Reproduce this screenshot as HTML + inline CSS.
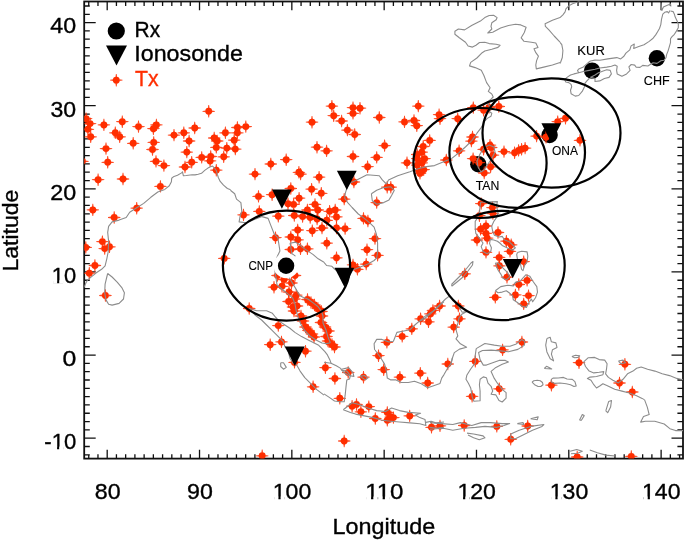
<!DOCTYPE html>
<html><head><meta charset="utf-8"><style>
html,body{margin:0;padding:0;background:#fff;overflow:hidden}
svg{display:block;font-family:"Liberation Sans",sans-serif;will-change:transform;filter:blur(0.3px)}
text{stroke:#000;stroke-width:0.35px}
text[fill]{stroke:#ff2e00}
</style></head><body>
<svg width="685" height="541" viewBox="0 0 685 541">
<defs><g id="m"><path d="M3 -0.9L6.2 -0.4L6.2 0.4L3 0.9ZM-3 -0.9L-6.2 -0.4L-6.2 0.4L-3 0.9ZM-0.9 3L-0.4 6.2L0.4 6.2L0.9 3ZM-0.9 -3L-0.4 -6.2L0.4 -6.2L0.9 -3Z" fill="#ff2e00" opacity="0.85"/><circle r="3.45" fill="#ff2e00"/></g><clipPath id="c"><rect x="84.2" y="1.5" width="598.8" height="457.1"/></clipPath></defs>
<rect width="685" height="541" fill="#fff"/>
<rect x="84.2" y="1.5" width="598.8" height="457.1" fill="none" stroke="#111" stroke-width="1.8"/>
<path d="M88.74 458.60V454.20M88.74 1.50V5.90M97.97 458.60V454.20M97.97 1.50V5.90M107.20 458.60V449.80M107.20 1.50V10.30M116.43 458.60V454.20M116.43 1.50V5.90M125.66 458.60V454.20M125.66 1.50V5.90M134.90 458.60V454.20M134.90 1.50V5.90M144.13 458.60V454.20M144.13 1.50V5.90M153.36 458.60V454.20M153.36 1.50V5.90M162.59 458.60V454.20M162.59 1.50V5.90M171.82 458.60V454.20M171.82 1.50V5.90M181.06 458.60V454.20M181.06 1.50V5.90M190.29 458.60V454.20M190.29 1.50V5.90M199.52 458.60V449.80M199.52 1.50V10.30M208.75 458.60V454.20M208.75 1.50V5.90M217.98 458.60V454.20M217.98 1.50V5.90M227.22 458.60V454.20M227.22 1.50V5.90M236.45 458.60V454.20M236.45 1.50V5.90M245.68 458.60V454.20M245.68 1.50V5.90M254.91 458.60V454.20M254.91 1.50V5.90M264.14 458.60V454.20M264.14 1.50V5.90M273.38 458.60V454.20M273.38 1.50V5.90M282.61 458.60V454.20M282.61 1.50V5.90M291.84 458.60V449.80M291.84 1.50V10.30M301.07 458.60V454.20M301.07 1.50V5.90M310.30 458.60V454.20M310.30 1.50V5.90M319.54 458.60V454.20M319.54 1.50V5.90M328.77 458.60V454.20M328.77 1.50V5.90M338.00 458.60V454.20M338.00 1.50V5.90M347.23 458.60V454.20M347.23 1.50V5.90M356.46 458.60V454.20M356.46 1.50V5.90M365.70 458.60V454.20M365.70 1.50V5.90M374.93 458.60V454.20M374.93 1.50V5.90M384.16 458.60V449.80M384.16 1.50V10.30M393.39 458.60V454.20M393.39 1.50V5.90M402.62 458.60V454.20M402.62 1.50V5.90M411.86 458.60V454.20M411.86 1.50V5.90M421.09 458.60V454.20M421.09 1.50V5.90M430.32 458.60V454.20M430.32 1.50V5.90M439.55 458.60V454.20M439.55 1.50V5.90M448.78 458.60V454.20M448.78 1.50V5.90M458.02 458.60V454.20M458.02 1.50V5.90M467.25 458.60V454.20M467.25 1.50V5.90M476.48 458.60V449.80M476.48 1.50V10.30M485.71 458.60V454.20M485.71 1.50V5.90M494.94 458.60V454.20M494.94 1.50V5.90M504.18 458.60V454.20M504.18 1.50V5.90M513.41 458.60V454.20M513.41 1.50V5.90M522.64 458.60V454.20M522.64 1.50V5.90M531.87 458.60V454.20M531.87 1.50V5.90M541.10 458.60V454.20M541.10 1.50V5.90M550.34 458.60V454.20M550.34 1.50V5.90M559.57 458.60V454.20M559.57 1.50V5.90M568.80 458.60V449.80M568.80 1.50V10.30M578.03 458.60V454.20M578.03 1.50V5.90M587.26 458.60V454.20M587.26 1.50V5.90M596.50 458.60V454.20M596.50 1.50V5.90M605.73 458.60V454.20M605.73 1.50V5.90M614.96 458.60V454.20M614.96 1.50V5.90M624.19 458.60V454.20M624.19 1.50V5.90M633.42 458.60V454.20M633.42 1.50V5.90M642.66 458.60V454.20M642.66 1.50V5.90M651.89 458.60V454.20M651.89 1.50V5.90M661.12 458.60V449.80M661.12 1.50V10.30M670.35 458.60V454.20M670.35 1.50V5.90M679.58 458.60V454.20M679.58 1.50V5.90M84.20 454.82H89.80M683.00 454.82H677.40M84.20 446.51H89.80M683.00 446.51H677.40M84.20 438.20H95.70M683.00 438.20H671.50M84.20 429.89H89.80M683.00 429.89H677.40M84.20 421.58H89.80M683.00 421.58H677.40M84.20 413.26H89.80M683.00 413.26H677.40M84.20 404.95H89.80M683.00 404.95H677.40M84.20 396.64H89.80M683.00 396.64H677.40M84.20 388.33H89.80M683.00 388.33H677.40M84.20 380.02H89.80M683.00 380.02H677.40M84.20 371.70H89.80M683.00 371.70H677.40M84.20 363.39H89.80M683.00 363.39H677.40M84.20 355.08H95.70M683.00 355.08H671.50M84.20 346.77H89.80M683.00 346.77H677.40M84.20 338.46H89.80M683.00 338.46H677.40M84.20 330.14H89.80M683.00 330.14H677.40M84.20 321.83H89.80M683.00 321.83H677.40M84.20 313.52H89.80M683.00 313.52H677.40M84.20 305.21H89.80M683.00 305.21H677.40M84.20 296.90H89.80M683.00 296.90H677.40M84.20 288.58H89.80M683.00 288.58H677.40M84.20 280.27H89.80M683.00 280.27H677.40M84.20 271.96H95.70M683.00 271.96H671.50M84.20 263.65H89.80M683.00 263.65H677.40M84.20 255.34H89.80M683.00 255.34H677.40M84.20 247.02H89.80M683.00 247.02H677.40M84.20 238.71H89.80M683.00 238.71H677.40M84.20 230.40H89.80M683.00 230.40H677.40M84.20 222.09H89.80M683.00 222.09H677.40M84.20 213.78H89.80M683.00 213.78H677.40M84.20 205.46H89.80M683.00 205.46H677.40M84.20 197.15H89.80M683.00 197.15H677.40M84.20 188.84H95.70M683.00 188.84H671.50M84.20 180.53H89.80M683.00 180.53H677.40M84.20 172.22H89.80M683.00 172.22H677.40M84.20 163.90H89.80M683.00 163.90H677.40M84.20 155.59H89.80M683.00 155.59H677.40M84.20 147.28H89.80M683.00 147.28H677.40M84.20 138.97H89.80M683.00 138.97H677.40M84.20 130.66H89.80M683.00 130.66H677.40M84.20 122.34H89.80M683.00 122.34H677.40M84.20 114.03H89.80M683.00 114.03H677.40M84.20 105.72H95.70M683.00 105.72H671.50M84.20 97.41H89.80M683.00 97.41H677.40M84.20 89.10H89.80M683.00 89.10H677.40M84.20 80.78H89.80M683.00 80.78H677.40M84.20 72.47H89.80M683.00 72.47H677.40M84.20 64.16H89.80M683.00 64.16H677.40M84.20 55.85H89.80M683.00 55.85H677.40M84.20 47.54H89.80M683.00 47.54H677.40M84.20 39.22H89.80M683.00 39.22H677.40M84.20 30.91H89.80M683.00 30.91H677.40M84.20 22.60H95.70M683.00 22.60H671.50M84.20 14.29H89.80M683.00 14.29H677.40M84.20 5.98H89.80M683.00 5.98H677.40" stroke="#111" stroke-width="1.3" fill="none"/>
<circle cx="592.1" cy="70.6" r="8.2" fill="#000"/>
<circle cx="656.9" cy="58.3" r="8.2" fill="#000"/>
<circle cx="478.3" cy="164.3" r="8.2" fill="#000"/>
<circle cx="549.6" cy="135.0" r="8.2" fill="#000"/>
<g clip-path="url(#c)">
<use href="#m" x="86.1" y="118.7"/>
<use href="#m" x="90.1" y="123.6"/>
<use href="#m" x="87.9" y="129.3"/>
<use href="#m" x="90.7" y="136.8"/>
<use href="#m" x="103.9" y="124.9"/>
<use href="#m" x="122.3" y="121.7"/>
<use href="#m" x="115.3" y="132.8"/>
<use href="#m" x="119.7" y="136.8"/>
<use href="#m" x="138.5" y="126.6"/>
<use href="#m" x="156.4" y="124.9"/>
<use href="#m" x="153.4" y="128.7"/>
<use href="#m" x="153.7" y="142.4"/>
<use href="#m" x="152.5" y="149.5"/>
<use href="#m" x="133.2" y="143.3"/>
<use href="#m" x="106.0" y="148.6"/>
<use href="#m" x="107.7" y="162.3"/>
<use href="#m" x="156.0" y="161.4"/>
<use href="#m" x="163.9" y="165.6"/>
<use href="#m" x="98.1" y="179.7"/>
<use href="#m" x="123.0" y="179.0"/>
<use href="#m" x="160.4" y="186.4"/>
<use href="#m" x="174.0" y="135.1"/>
<use href="#m" x="183.8" y="132.8"/>
<use href="#m" x="189.1" y="141.0"/>
<use href="#m" x="194.7" y="128.0"/>
<use href="#m" x="186.8" y="152.1"/>
<use href="#m" x="191.7" y="162.3"/>
<use href="#m" x="185.0" y="167.0"/>
<use href="#m" x="201.7" y="157.4"/>
<use href="#m" x="82.5" y="161.3"/>
<use href="#m" x="208.7" y="111.3"/>
<use href="#m" x="237.4" y="127.5"/>
<use href="#m" x="245.8" y="126.6"/>
<use href="#m" x="225.4" y="132.8"/>
<use href="#m" x="237.4" y="132.8"/>
<use href="#m" x="214.2" y="138.0"/>
<use href="#m" x="217.2" y="141.0"/>
<use href="#m" x="234.2" y="140.2"/>
<use href="#m" x="216.3" y="147.4"/>
<use href="#m" x="226.8" y="148.1"/>
<use href="#m" x="235.3" y="149.1"/>
<use href="#m" x="210.7" y="156.5"/>
<use href="#m" x="210.1" y="160.9"/>
<use href="#m" x="223.7" y="156.8"/>
<use href="#m" x="216.3" y="170.2"/>
<use href="#m" x="255.0" y="174.1"/>
<use href="#m" x="270.8" y="164.0"/>
<use href="#m" x="286.2" y="159.7"/>
<use href="#m" x="298.9" y="172.3"/>
<use href="#m" x="300.6" y="174.1"/>
<use href="#m" x="312.0" y="122.2"/>
<use href="#m" x="317.0" y="147.2"/>
<use href="#m" x="319.1" y="177.2"/>
<use href="#m" x="331.9" y="106.1"/>
<use href="#m" x="353.0" y="107.6"/>
<use href="#m" x="360.0" y="108.2"/>
<use href="#m" x="353.0" y="113.4"/>
<use href="#m" x="333.7" y="115.7"/>
<use href="#m" x="341.6" y="121.0"/>
<use href="#m" x="347.4" y="130.1"/>
<use href="#m" x="354.7" y="134.5"/>
<use href="#m" x="379.3" y="117.5"/>
<use href="#m" x="384.6" y="145.6"/>
<use href="#m" x="326.6" y="150.9"/>
<use href="#m" x="353.0" y="156.5"/>
<use href="#m" x="376.7" y="157.4"/>
<use href="#m" x="367.6" y="166.7"/>
<use href="#m" x="353.9" y="182.0"/>
<use href="#m" x="387.2" y="187.2"/>
<use href="#m" x="390.8" y="187.2"/>
<use href="#m" x="404.5" y="121.9"/>
<use href="#m" x="414.0" y="120.5"/>
<use href="#m" x="416.8" y="125.7"/>
<use href="#m" x="418.3" y="106.1"/>
<use href="#m" x="439.1" y="114.7"/>
<use href="#m" x="440.0" y="118.7"/>
<use href="#m" x="429.7" y="140.4"/>
<use href="#m" x="423.2" y="146.5"/>
<use href="#m" x="421.8" y="152.2"/>
<use href="#m" x="417.2" y="154.5"/>
<use href="#m" x="424.6" y="158.7"/>
<use href="#m" x="417.2" y="158.7"/>
<use href="#m" x="407.0" y="162.8"/>
<use href="#m" x="421.8" y="162.8"/>
<use href="#m" x="417.2" y="165.1"/>
<use href="#m" x="423.7" y="169.7"/>
<use href="#m" x="419.0" y="170.7"/>
<use href="#m" x="420.0" y="173.4"/>
<use href="#m" x="446.3" y="160.0"/>
<use href="#m" x="472.5" y="137.0"/>
<use href="#m" x="471.4" y="141.1"/>
<use href="#m" x="459.1" y="150.8"/>
<use href="#m" x="483.6" y="149.3"/>
<use href="#m" x="490.0" y="145.2"/>
<use href="#m" x="491.2" y="147.5"/>
<use href="#m" x="493.0" y="155.1"/>
<use href="#m" x="473.1" y="158.6"/>
<use href="#m" x="478.9" y="162.7"/>
<use href="#m" x="490.6" y="166.8"/>
<use href="#m" x="484.2" y="173.0"/>
<use href="#m" x="504.0" y="151.6"/>
<use href="#m" x="514.6" y="152.8"/>
<use href="#m" x="518.6" y="150.4"/>
<use href="#m" x="521.6" y="149.3"/>
<use href="#m" x="525.1" y="148.1"/>
<use href="#m" x="473.3" y="107.6"/>
<use href="#m" x="483.6" y="110.2"/>
<use href="#m" x="489.0" y="107.5"/>
<use href="#m" x="498.8" y="106.5"/>
<use href="#m" x="457.7" y="118.7"/>
<use href="#m" x="536.6" y="136.1"/>
<use href="#m" x="546.0" y="137.2"/>
<use href="#m" x="557.7" y="121.6"/>
<use href="#m" x="565.5" y="118.3"/>
<use href="#m" x="580.0" y="140.3"/>
<use href="#m" x="258.5" y="196.4"/>
<use href="#m" x="272.1" y="194.7"/>
<use href="#m" x="243.5" y="214.9"/>
<use href="#m" x="259.3" y="211.4"/>
<use href="#m" x="224.2" y="258.4"/>
<use href="#m" x="290.8" y="188.5"/>
<use href="#m" x="299.1" y="198.2"/>
<use href="#m" x="288.0" y="203.7"/>
<use href="#m" x="293.6" y="204.4"/>
<use href="#m" x="311.6" y="189.2"/>
<use href="#m" x="321.3" y="193.3"/>
<use href="#m" x="315.0" y="204.4"/>
<use href="#m" x="317.8" y="210.0"/>
<use href="#m" x="307.4" y="210.0"/>
<use href="#m" x="329.6" y="211.3"/>
<use href="#m" x="335.2" y="210.0"/>
<use href="#m" x="336.5" y="216.9"/>
<use href="#m" x="326.8" y="220.3"/>
<use href="#m" x="278.3" y="216.2"/>
<use href="#m" x="294.3" y="215.5"/>
<use href="#m" x="302.6" y="216.6"/>
<use href="#m" x="310.2" y="217.6"/>
<use href="#m" x="317.1" y="219.0"/>
<use href="#m" x="336.5" y="228.0"/>
<use href="#m" x="322.0" y="228.0"/>
<use href="#m" x="312.3" y="230.7"/>
<use href="#m" x="297.7" y="230.0"/>
<use href="#m" x="275.5" y="237.7"/>
<use href="#m" x="290.8" y="237.0"/>
<use href="#m" x="297.7" y="239.8"/>
<use href="#m" x="326.8" y="243.2"/>
<use href="#m" x="290.8" y="249.5"/>
<use href="#m" x="300.5" y="248.8"/>
<use href="#m" x="307.4" y="248.8"/>
<use href="#m" x="336.5" y="257.8"/>
<use href="#m" x="277.5" y="275.5"/>
<use href="#m" x="295.0" y="275.5"/>
<use href="#m" x="278.3" y="325.6"/>
<use href="#m" x="281.5" y="341.9"/>
<use href="#m" x="270.2" y="344.7"/>
<use href="#m" x="249.2" y="308.5"/>
<use href="#m" x="305.5" y="351.2"/>
<use href="#m" x="294.5" y="362.4"/>
<use href="#m" x="325.4" y="367.7"/>
<use href="#m" x="284.0" y="279.5"/>
<use href="#m" x="291.5" y="283.0"/>
<use href="#m" x="274.0" y="287.2"/>
<use href="#m" x="282.0" y="286.3"/>
<use href="#m" x="289.0" y="292.0"/>
<use href="#m" x="296.3" y="295.2"/>
<use href="#m" x="294.5" y="299.0"/>
<use href="#m" x="288.6" y="301.5"/>
<use href="#m" x="293.0" y="307.0"/>
<use href="#m" x="297.0" y="306.0"/>
<use href="#m" x="294.0" y="311.0"/>
<use href="#m" x="301.0" y="316.0"/>
<use href="#m" x="303.0" y="321.0"/>
<use href="#m" x="305.5" y="327.0"/>
<use href="#m" x="308.5" y="330.5"/>
<use href="#m" x="312.0" y="334.0"/>
<use href="#m" x="314.0" y="337.0"/>
<use href="#m" x="307.5" y="299.5"/>
<use href="#m" x="311.0" y="302.5"/>
<use href="#m" x="314.5" y="305.0"/>
<use href="#m" x="318.0" y="308.5"/>
<use href="#m" x="321.5" y="311.5"/>
<use href="#m" x="322.0" y="316.0"/>
<use href="#m" x="321.0" y="322.5"/>
<use href="#m" x="325.0" y="327.0"/>
<use href="#m" x="328.5" y="331.0"/>
<use href="#m" x="326.5" y="336.5"/>
<use href="#m" x="328.0" y="341.0"/>
<use href="#m" x="332.0" y="344.5"/>
<use href="#m" x="334.5" y="347.0"/>
<use href="#m" x="92.8" y="209.9"/>
<use href="#m" x="114.2" y="217.5"/>
<use href="#m" x="136.7" y="208.2"/>
<use href="#m" x="102.4" y="241.6"/>
<use href="#m" x="104.7" y="248.6"/>
<use href="#m" x="109.5" y="246.8"/>
<use href="#m" x="85.8" y="247.4"/>
<use href="#m" x="94.9" y="265.5"/>
<use href="#m" x="89.3" y="273.2"/>
<use href="#m" x="344.2" y="199.1"/>
<use href="#m" x="345.1" y="228.6"/>
<use href="#m" x="363.5" y="218.4"/>
<use href="#m" x="367.9" y="221.0"/>
<use href="#m" x="375.0" y="238.6"/>
<use href="#m" x="367.0" y="249.7"/>
<use href="#m" x="377.6" y="255.3"/>
<use href="#m" x="366.2" y="264.1"/>
<use href="#m" x="353.0" y="264.9"/>
<use href="#m" x="357.4" y="269.3"/>
<use href="#m" x="376.7" y="202.6"/>
<use href="#m" x="481.2" y="203.6"/>
<use href="#m" x="492.4" y="207.6"/>
<use href="#m" x="492.9" y="213.6"/>
<use href="#m" x="479.4" y="215.7"/>
<use href="#m" x="486.0" y="226.0"/>
<use href="#m" x="480.6" y="229.2"/>
<use href="#m" x="486.0" y="233.4"/>
<use href="#m" x="487.2" y="238.2"/>
<use href="#m" x="477.0" y="240.0"/>
<use href="#m" x="498.0" y="232.5"/>
<use href="#m" x="506.4" y="241.2"/>
<use href="#m" x="511.2" y="244.8"/>
<use href="#m" x="510.0" y="251.4"/>
<use href="#m" x="486.0" y="252.4"/>
<use href="#m" x="499.2" y="257.4"/>
<use href="#m" x="499.4" y="265.8"/>
<use href="#m" x="507.0" y="277.2"/>
<use href="#m" x="523.7" y="261.6"/>
<use href="#m" x="527.1" y="280.4"/>
<use href="#m" x="518.8" y="284.5"/>
<use href="#m" x="515.4" y="294.9"/>
<use href="#m" x="528.5" y="295.6"/>
<use href="#m" x="523.7" y="303.9"/>
<use href="#m" x="495.3" y="297.4"/>
<use href="#m" x="105.4" y="295.5"/>
<use href="#m" x="378.5" y="355.7"/>
<use href="#m" x="386.9" y="342.4"/>
<use href="#m" x="402.2" y="336.4"/>
<use href="#m" x="411.8" y="328.9"/>
<use href="#m" x="420.6" y="318.8"/>
<use href="#m" x="428.5" y="321.8"/>
<use href="#m" x="430.3" y="313.9"/>
<use href="#m" x="432.9" y="310.4"/>
<use href="#m" x="439.6" y="306.0"/>
<use href="#m" x="464.8" y="273.9"/>
<use href="#m" x="458.3" y="306.0"/>
<use href="#m" x="459.5" y="318.8"/>
<use href="#m" x="453.7" y="327.1"/>
<use href="#m" x="447.8" y="364.0"/>
<use href="#m" x="475.3" y="361.4"/>
<use href="#m" x="502.6" y="349.9"/>
<use href="#m" x="521.9" y="342.0"/>
<use href="#m" x="579.0" y="362.7"/>
<use href="#m" x="624.9" y="364.3"/>
<use href="#m" x="619.5" y="383.0"/>
<use href="#m" x="632.3" y="392.0"/>
<use href="#m" x="551.4" y="385.2"/>
<use href="#m" x="313.1" y="386.8"/>
<use href="#m" x="262.2" y="455.8"/>
<use href="#m" x="334.9" y="378.5"/>
<use href="#m" x="348.2" y="372.5"/>
<use href="#m" x="363.5" y="377.2"/>
<use href="#m" x="383.7" y="369.7"/>
<use href="#m" x="399.9" y="377.2"/>
<use href="#m" x="420.3" y="373.2"/>
<use href="#m" x="427.7" y="383.0"/>
<use href="#m" x="339.8" y="398.3"/>
<use href="#m" x="352.1" y="406.2"/>
<use href="#m" x="356.5" y="404.5"/>
<use href="#m" x="360.9" y="411.8"/>
<use href="#m" x="368.8" y="406.6"/>
<use href="#m" x="375.3" y="418.5"/>
<use href="#m" x="387.3" y="412.4"/>
<use href="#m" x="390.8" y="416.8"/>
<use href="#m" x="387.3" y="420.3"/>
<use href="#m" x="393.4" y="417.6"/>
<use href="#m" x="409.7" y="415.9"/>
<use href="#m" x="431.5" y="427.3"/>
<use href="#m" x="440.0" y="425.9"/>
<use href="#m" x="344.2" y="441.0"/>
<use href="#m" x="472.1" y="396.4"/>
<use href="#m" x="499.3" y="388.8"/>
<use href="#m" x="464.2" y="425.5"/>
<use href="#m" x="496.8" y="426.4"/>
<use href="#m" x="527.7" y="426.0"/>
<use href="#m" x="510.7" y="439.3"/>
<use href="#m" x="577.2" y="457.0"/>
<use href="#m" x="631.3" y="456.4"/>
</g>
<g clip-path="url(#c)" fill="none" stroke="#8c8c8c" stroke-width="1.1" stroke-linejoin="round">
<polyline points="491.8,94.0 488.3,91.4 490.1,87.8 486.6,82.6 483.9,75.5 481.3,70.3 475.1,67.6 469.5,65.9 470.7,62.4 476.9,58.0 482.2,52.7 484.8,51.0 491.8,49.2 498.0,47.4 500.1,45.3 496.2,44.3 489.2,43.6 484.8,42.2 479.5,42.5 476.0,45.3 472.5,47.1 468.1,46.0 465.5,42.2 459.3,37.8 454.9,34.3 454.9,31.3 458.4,29.0 464.6,29.9 471.6,25.5 480.4,21.1 484.8,17.6 489.2,15.5 493.6,15.3 497.1,17.6 496.2,19.7 491.8,22.8 491.0,26.4 491.8,29.0 487.8,33.0 492.7,32.2 500.6,28.1 508.5,25.5 515.5,24.2 520.8,24.9 526.1,27.2 524.3,32.5 521.2,37.8 524.0,41.3 531.4,42.2 535.8,43.0 538.0,47.4 534.0,48.8 535.8,52.7 538.4,56.2 536.6,60.6 535.8,65.0 536.3,68.9 543.7,67.1 552.4,65.0 560.0,62.4"/>
<polyline points="560.0,42.2 554.2,36.0 548.9,29.9 545.4,26.4 545.1,23.7 552.4,20.2 560.0,17.6"/>
<polyline points="164.8,189.4 157.8,192.0 150.8,197.3 143.7,203.4 136.7,207.8 129.7,212.2 126.2,217.5 119.1,220.1 112.1,221.9 108.6,226.3 107.7,232.4 108.6,241.2 108.2,251.8 106.8,258.8 105.1,265.8 101.6,269.3 96.3,272.8 91.0,277.2 87.5,280.1"/>
<polyline points="230.4,190.3 234.7,193.8 236.5,199.1 240.9,202.6 241.8,211.4 240.0,216.6 239.1,221.9 246.2,222.8 255.0,219.3 262.0,216.6 268.1,218.4 270.8,225.4 274.3,234.2 277.8,237.7 278.7,243.0 279.9,250.9 277.4,256.2"/>
<polyline points="295.4,256.2 291.8,253.5 291.0,248.3 290.1,243.3 295.4,242.1 299.8,244.7 302.4,247.4 307.7,250.9 312.9,254.4 318.2,258.8 324.0,262.3"/>
<polyline points="324.0,262.3 326.6,265.5 331.9,266.3 334.5,269.0 339.8,272.8 346.8,272.0 354.7,269.3 360.9,266.7 367.9,264.1 374.1,260.5 376.7,257.9 377.6,251.8 377.6,243.0 376.4,234.2 374.1,227.2 369.7,222.8 364.4,218.4 358.3,214.0 352.1,207.5 347.7,202.6 344.7,198.2 345.4,192.9 346.8,188.5 347.7,185.0"/>
<polyline points="371.4,193.8 376.7,190.3 383.7,187.6 390.8,186.8 394.3,190.3 391.6,195.5 389.0,199.9 383.7,202.6 376.7,204.3 372.3,200.8 371.4,193.8"/>
<polyline points="480.6,202.2 497.4,201.6 496.5,205.8 498.0,213.0 496.8,217.2 493.8,221.4 491.7,226.0 492.6,231.0 494.4,235.2 499.2,237.0 502.2,236.4 504.6,240.0 509.4,241.8 513.0,245.4 515.4,247.8 512.4,250.2 507.0,247.8 502.2,245.4 499.8,243.0 497.4,241.2 493.8,240.0 490.2,239.4 489.6,243.6 491.4,247.8 490.8,251.4 487.2,253.8 483.0,251.4 481.2,246.6 483.0,243.0 479.4,238.2 475.8,233.4 475.2,227.4 475.2,221.4 477.6,217.8 479.4,213.0 480.0,207.0 480.6,202.2"/>
<polyline points="495.3,290.8 500.8,286.6 507.7,285.2 513.3,285.9 515.4,282.4 520.2,281.0 525.8,274.8 529.9,276.2 532.7,281.0 536.8,286.6 537.5,292.1 535.5,297.7 532.7,301.8 531.3,299.1 528.5,303.2 526.4,307.4 521.6,306.0 517.4,302.5 513.3,299.8 512.6,295.6 509.1,292.8 506.3,290.8 502.2,292.1 498.0,292.8 495.3,290.8"/>
<polyline points="517.4,252.6 521.6,251.2 527.1,251.9 527.8,256.1 527.1,261.6 524.4,265.8 523.0,270.6 521.6,269.3 520.2,263.0 517.4,258.9 516.7,254.7 517.4,252.6"/>
<polyline points="495.3,263.0 498.0,270.0 500.8,274.1 502.9,278.3 506.3,279.7 509.8,276.9 507.7,272.7 504.3,269.3 500.8,265.8 498.0,263.0 495.3,263.0"/>
<polyline points="107.7,273.5 112.1,277.0 117.4,282.3 121.8,287.6 124.4,292.8 123.5,299.0 119.1,303.4 112.1,305.1 108.6,304.3 106.0,299.9 104.7,292.8 105.1,284.1 106.8,277.0 107.7,273.5"/>
<polyline points="87.5,280.0 85.4,284.1 84.0,287.6"/>
<polyline points="444.0,301.6 438.2,306.9 432.9,311.3 425.9,315.7 420.6,320.1 415.4,324.5 410.1,329.7 401.3,331.5 396.9,332.4 395.2,336.8 393.4,341.2 389.0,342.0 382.0,339.4 376.7,339.4 374.1,343.8 374.6,349.9"/>
<polyline points="420.0,321.0 423.5,319.2 430.5,313.9 435.8,308.7 441.1,303.4 445.5,299.0 449.0,296.4 451.6,298.1 455.1,301.3 459.5,307.8 462.2,312.2 467.4,311.3 462.2,313.9 459.0,317.8 457.8,323.6 456.0,329.7 457.8,335.9 456.0,338.9 460.4,343.8 466.6,347.3 459.5,349.1 454.3,352.6 452.5,357.8 450.7,365.1"/>
<polyline points="546.9,338.5 550.2,337.3 551.4,341.8 555.9,342.9 557.0,347.4 552.5,349.7 551.4,354.2 553.6,360.9 550.2,358.7 546.9,351.9 545.7,345.2 546.9,338.5"/>
<polyline points="296.4,364.6 300.1,371.1 304.8,377.6 310.3,383.1 316.8,389.6 324.0,395.1"/>
<polyline points="280.7,362.8 283.5,362.8 286.3,367.4 283.5,369.2 280.7,366.5 280.7,362.8"/>
<polyline points="324.0,393.9 329.3,397.4 334.5,401.0 339.8,401.8 344.2,401.8 345.1,395.7 346.0,386.9 346.8,379.9 349.5,379.0 350.4,375.5 346.8,371.1 341.6,370.2 340.7,368.4 336.3,365.8 331.0,363.2 324.0,362.3"/>
<polyline points="341.6,369.3 348.6,367.6 353.0,372.8 353.9,376.4 348.6,375.5 343.3,372.0 341.6,369.3"/>
<polyline points="360.0,376.4 364.4,375.5 367.9,378.1 365.3,379.9 360.0,376.4"/>
<polyline points="375.0,350.0 380.2,357.0 384.6,364.1 386.4,371.1 387.3,378.1 390.8,379.9 396.0,379.9 401.3,382.5 408.3,382.5 414.5,381.3 420.6,383.4 427.7,387.8 432.9,386.0 440.0,383.4 441.7,378.1 444.0,374.6 448.0,367.6 450.9,363.9 452.3,357.9"/>
<polyline points="343.3,409.7 347.7,406.2 352.1,402.7 359.1,404.5 367.9,408.0 376.7,410.6 385.5,411.5 391.6,408.0 399.5,410.6 408.3,412.4 420.6,413.3 415.4,415.0 419.8,417.6 425.0,419.4 425.9,425.5 419.8,423.8 410.1,422.9 399.5,422.0 390.8,421.2 382.0,420.3 373.2,417.6 364.4,415.9 355.6,414.1 350.4,412.4 343.3,409.7"/>
<polyline points="425.9,422.4 431.2,421.2 436.4,422.9 444.0,422.0"/>
<polyline points="429.4,427.3 436.4,428.2 444.0,427.3"/>
<polyline points="430.0,422.6 441.4,423.6 452.8,424.5 460.4,422.6 471.8,425.5 481.2,422.6 490.7,422.6 502.1,423.6 509.7,423.6 504.0,425.5 496.4,427.4 485.0,426.4 475.5,427.4 464.2,428.3 452.8,430.2 443.3,428.3 430.0,429.3"/>
<polyline points="467.0,433.1 473.6,434.0 483.1,435.9 485.0,437.8 479.3,439.7 473.6,437.8 468.0,435.0"/>
<polyline points="510.7,434.0 519.2,430.2 530.6,426.4 543.9,424.5 542.0,426.4 532.5,430.2 523.0,435.0 515.4,438.8 510.7,438.8 510.7,434.0"/>
<polyline points="517.3,423.6 523.0,422.6 523.9,424.5 517.3,423.6"/>
<polyline points="530.6,418.8 538.2,416.9 537.2,419.8 530.6,418.8"/>
<polyline points="644.6,399.9 647.3,407.1 649.2,414.6 643.5,416.5 640.7,422.1 645.4,421.2 654.8,421.2 664.2,424.0 669.9,428.7 675.5,430.6 683.8,430.6"/>
<polyline points="605.8,410.8 608.7,401.4 611.5,400.5 610.6,407.1 607.7,412.7 605.8,410.8"/>
<polyline points="579.5,420.3 582.3,414.6 584.2,415.6 581.4,420.3 579.5,420.3"/>
<polyline points="570.1,451.3 576.7,449.5 582.3,451.3 577.6,453.2 571.0,453.8"/>
<polyline points="589.8,450.0 597.4,452.7 605.8,455.1 615.3,456.0"/>
<polyline points="164.8,189.4 169.3,185.8 171.4,181.7 171.7,178.2 174.0,176.4 177.5,175.3 181.6,172.9 182.5,171.8 183.4,175.8 186.3,175.5 192.1,174.7 195.0,174.9 198.2,174.2 201.5,173.3 204.7,170.4 207.9,168.1 210.5,166.8 212.5,166.1 214.4,167.8 216.4,170.7 217.3,174.2 218.3,177.5 220.2,181.4 223.5,185.2 227.4,188.5 230.6,189.8"/>
<polyline points="347.7,185.0 350.0,183.0 356.8,179.9 367.0,174.8 379.3,175.8 382.3,179.9 386.4,184.0 388.5,179.9 397.7,175.8 409.9,171.7 418.1,168.7 422.2,167.7 426.3,166.6 434.5,165.6 446.7,160.5 451.8,158.4 459.2,152.5 465.9,146.5 471.8,140.6 477.0,133.2 481.4,127.3 484.4,121.4 487.3,118.4 491.0,116.2 491.8,113.3 489.5,111.8 491.0,108.8 488.8,105.1 487.3,102.2 491.0,99.2 493.2,97.0 491.8,94.0"/>
<polyline points="489.0,145.0 494.0,147.0 495.0,152.0 492.0,158.0 488.0,164.0 484.0,170.0 481.0,172.0 478.0,167.0 477.0,161.0 480.0,154.0 484.0,148.0 489.0,145.0"/>
<polyline points="560.0,42.3 561.8,44.7 562.9,50.5 562.3,57.5 560.6,62.2 560.0,63.4"/>
<polyline points="669.9,10.4 668.6,12.9 667.3,11.6 664.7,12.3 662.8,14.2 661.5,19.4 660.8,24.6 659.5,28.5 657.6,31.7 655.7,34.9 653.1,38.2 649.2,41.4 644.0,44.7 638.8,46.6 633.7,48.5 634.3,44.0 631.1,45.9 629.8,49.8 625.9,53.1 623.9,56.3 620.7,58.9 616.8,57.6 607.8,58.9 600.0,60.2 595.0,60.1 590.4,61.0 588.0,62.8 583.4,66.9 578.7,69.0 577.5,70.6 578.7,72.7 574.0,73.9 570.5,75.0 567.0,77.4 564.7,79.7 565.8,82.0 568.8,82.6 571.1,84.4 571.7,86.7 570.5,90.2 571.1,93.7 575.2,96.1 578.7,95.5 582.2,91.4 584.5,86.7 585.1,83.2 586.9,80.9 589.2,78.5"/>
<polyline points="670.5,11.0 673.1,11.6 674.4,14.2 675.1,16.8 677.0,20.7 678.3,23.9 678.3,27.8 676.4,31.1 674.4,34.3 671.8,36.9 670.5,38.8 670.5,42.7 669.2,47.2 668.0,51.1 666.7,54.4 666.0,57.6 664.1,60.2 660.8,60.8 657.0,63.4 653.1,62.8 649.8,64.7 647.9,66.0 642.7,65.4 640.0,67.4 636.2,67.3 634.7,65.1 631.2,64.5 628.9,66.9 630.1,70.4 626.6,73.9 621.9,76.2 617.2,73.9 616.6,70.4 617.2,66.3 614.9,65.1 611.4,66.3 606.7,67.1 599.7,68.0 595.0,69.2 589.2,70.4 583.4,71.5 578.7,72.7"/>
<polyline points="590.4,77.4 595.0,78.5 595.0,81.5 599.7,80.9 604.4,78.5 609.0,77.4 611.4,73.9 610.2,70.4 606.7,69.8 603.2,70.9 598.5,72.7 595.0,75.0 590.4,77.4"/>
<polyline points="660.8,3.2 661.9,10.4 663.4,7.1 667.3,5.2 670.5,3.9 670.9,6.5"/>
<polyline points="560.0,17.6 562.9,14.8 565.1,11.8 565.9,8.9 568.8,5.9 572.5,3.7 577.0,2.2 580.0,1.0"/>
<polyline points="249.2,308.3 256.6,310.8 266.6,310.8 272.4,313.3 275.8,317.5 279.9,321.6 284.9,325.0 289.9,328.3 294.9,332.4 301.6,336.6 308.2,339.9 313.2,342.4 318.2,344.9 321.5,348.2 324.9,351.6 327.4,354.9 329.9,359.9 331.0,363.2"/>
<polyline points="249.2,308.3 255.0,315.0 261.6,320.0 266.6,325.0 271.6,329.9 276.6,334.9 283.3,341.6 284.9,346.6 288.3,351.6 289.9,358.2 293.2,363.2 296.5,364.6"/>
<polyline points="277.4,256.2 274.5,265.0 275.0,272.0 276.0,277.6 277.0,284.8 281.8,289.0 287.8,293.9 292.7,298.0 295.0,304.0 296.3,311.3 298.7,318.5 301.0,324.5 304.7,330.5 310.0,336.0 316.0,340.0 322.0,343.0 326.6,343.6 330.3,342.8"/>
<polyline points="286.0,262.0 289.6,278.2 292.7,283.6 296.3,289.6 299.9,295.7 303.5,297.5 308.3,299.3 313.1,302.9 317.9,306.5 321.5,311.3 323.0,316.0 323.0,323.0 326.0,330.0 328.0,337.0 330.3,342.8"/>
<polyline points="451.5,284.5 456.0,280.0 462.0,274.0 467.0,268.0 471.0,263.0 473.0,261.5 472.5,265.0 468.0,271.0 463.0,277.0 457.0,282.0 452.0,286.0 451.5,284.5"/>
<polyline points="571.9,356.5 575.5,355.2 579.7,355.9 578.2,357.4 574.6,357.7 571.9,356.5"/>
<polyline points="583.7,361.9 588.3,357.7 594.7,357.4 599.2,359.6 604.7,360.1 607.1,363.8 606.5,369.2 605.6,373.8 608.4,377.4 612.9,380.2 618.4,382.9 623.0,379.3 627.5,373.8 633.0,371.1 636.6,368.3 641.2,367.0 647.6,369.2 654.9,371.1 662.2,373.8 669.5,375.6 676.8,378.4 685.0,380.2"/>
<polyline points="583.7,361.9 585.5,366.5 589.2,371.1 593.8,372.9 599.2,372.3 603.8,371.6 602.9,374.7 596.5,376.5 590.1,377.1 587.4,378.4 591.0,380.2 593.8,384.7 596.5,388.0 600.1,385.7 602.9,383.8 607.4,385.7 614.7,389.3 622.0,391.1 629.3,393.0 636.6,395.7 642.1,398.4 644.6,399.9"/>
<polyline points="618.4,361.0 623.0,360.1 625.7,362.8 621.1,363.8 618.4,361.0"/>
<polyline points="551.3,379.4 553.0,378.1 558.3,378.0 563.5,377.4 567.0,379.0 572.3,379.4 574.9,381.6 576.2,386.0 574.0,386.5 570.5,384.7 566.2,383.8 560.0,383.0 554.8,383.4 551.3,382.1 551.3,379.4"/>
<polyline points="532.0,382.1 533.8,380.8 537.3,380.3 540.3,380.8 542.5,382.5 543.0,384.7 540.8,386.5 538.1,386.5 534.6,384.7 532.0,382.1"/>
<polyline points="544.3,368.5 546.5,366.3 548.6,367.2 551.7,368.9 544.3,368.5"/>
<polyline points="476.2,348.6 484.9,343.5 494.3,345.1 502.2,346.2 510.0,346.2 516.3,343.9 521.8,339.5 524.9,341.5 524.2,345.4 517.9,349.4 508.4,351.7 500.6,350.9 491.1,350.1 482.5,350.5 478.6,352.5 480.1,359.6 483.3,365.1 486.4,365.1 492.7,362.7 499.0,360.4 505.3,360.4 508.4,361.9 502.2,364.3 495.9,367.4 491.1,371.4 494.3,378.4 497.4,383.2 502.2,389.4 506.1,392.6 506.1,398.1 502.2,402.0 499.0,400.4 495.9,394.9 491.1,394.2 492.7,391.0 491.1,386.3 488.0,383.2 486.4,377.7 483.3,376.9 480.1,379.2 479.4,384.7 480.1,391.0 480.1,400.8 473.9,401.2 472.3,397.3 471.5,392.6 470.7,387.9 468.4,383.2 466.0,379.2 466.8,375.3 470.7,369.0 475.4,362.7 475.1,356.4 476.2,348.6"/>
</g>
<g fill="none" stroke="#000" stroke-width="2.2">
<ellipse cx="286.5" cy="265.6" rx="63.6" ry="55.0"/>
<ellipse cx="501.9" cy="265.5" rx="62.8" ry="54.7"/>
<ellipse cx="480.0" cy="163.0" rx="66.6" ry="55.0"/>
<ellipse cx="517.2" cy="152.4" rx="67.8" ry="55.5"/>
<ellipse cx="551.5" cy="133.0" rx="69.0" ry="54.6"/>
</g>
<circle cx="286.1" cy="265.7" r="12.6" fill="#fff"/><circle cx="286.1" cy="265.7" r="8.2" fill="#000"/>
<path d="M272.0 189.5L291.8 189.5L281.9 208.8Z" fill="#000"/>
<path d="M336.9 170.7L356.7 170.7L346.8 190.0Z" fill="#000"/>
<path d="M334.5 267.7L354.3 267.7L344.4 287.0Z" fill="#000"/>
<path d="M284.9 346.6L304.7 346.6L294.8 365.9Z" fill="#000"/>
<path d="M502.8 259.0L522.6 259.0L512.7 278.3Z" fill="#000"/>
<path d="M541.4 123.3L561.2 123.3L551.3 142.6Z" fill="#000"/>
<text x="248.42" y="270.40" font-size="12.00" textLength="24.58" lengthAdjust="spacingAndGlyphs" style="stroke-width:0.12px">CNP</text>
<text x="577.36" y="54.70" font-size="12.00" textLength="27.40" lengthAdjust="spacingAndGlyphs" style="stroke-width:0.12px">KUR</text>
<text x="643.87" y="85.10" font-size="12.00" textLength="25.83" lengthAdjust="spacingAndGlyphs" style="stroke-width:0.12px">CHF</text>
<text x="475.79" y="189.50" font-size="12.00" textLength="23.60" lengthAdjust="spacingAndGlyphs" style="stroke-width:0.12px">TAN</text>
<text x="551.96" y="155.20" font-size="12.00" textLength="25.96" lengthAdjust="spacingAndGlyphs" style="stroke-width:0.12px">ONA</text>
<text x="94.81" y="499.00" font-size="22.00" textLength="25.81" lengthAdjust="spacingAndGlyphs">80</text>

<text x="187.13" y="499.00" font-size="22.00" textLength="25.81" lengthAdjust="spacingAndGlyphs">90</text>

<text x="272.76" y="499.00" font-size="22.00" textLength="38.52" lengthAdjust="spacingAndGlyphs">100</text>
<rect x="274.14" y="496.63" width="4.27" height="3.37" fill="#fff"/><rect x="280.61" y="496.63" width="4.16" height="3.37" fill="#fff"/>
<text x="365.16" y="499.00" font-size="22.00" textLength="38.35" lengthAdjust="spacingAndGlyphs">110</text>
<rect x="366.60" y="496.63" width="4.45" height="3.37" fill="#fff"/><rect x="373.33" y="496.63" width="4.33" height="3.37" fill="#fff"/><rect x="378.19" y="496.63" width="4.45" height="3.37" fill="#fff"/><rect x="384.92" y="496.63" width="4.33" height="3.37" fill="#fff"/>
<text x="457.40" y="499.00" font-size="22.00" textLength="38.52" lengthAdjust="spacingAndGlyphs">120</text>
<rect x="458.78" y="496.63" width="4.27" height="3.37" fill="#fff"/><rect x="465.25" y="496.63" width="4.16" height="3.37" fill="#fff"/>
<text x="549.72" y="499.00" font-size="22.00" textLength="38.52" lengthAdjust="spacingAndGlyphs">130</text>
<rect x="551.10" y="496.63" width="4.27" height="3.37" fill="#fff"/><rect x="557.57" y="496.63" width="4.16" height="3.37" fill="#fff"/>
<text x="642.04" y="499.00" font-size="22.00" textLength="38.52" lengthAdjust="spacingAndGlyphs">140</text>
<rect x="643.42" y="496.63" width="4.27" height="3.37" fill="#fff"/><rect x="649.89" y="496.63" width="4.16" height="3.37" fill="#fff"/>
<text x="44.31" y="449.00" font-size="22.00" textLength="31.88" lengthAdjust="spacingAndGlyphs">-10</text>
<rect x="52.98" y="446.63" width="4.08" height="3.37" fill="#fff"/><rect x="59.15" y="446.63" width="3.97" height="3.37" fill="#fff"/>
<text x="62.51" y="365.88" font-size="22.00" textLength="13.82" lengthAdjust="spacingAndGlyphs">0</text>

<text x="51.76" y="282.76" font-size="22.00" textLength="24.36" lengthAdjust="spacingAndGlyphs">10</text>
<rect x="53.07" y="280.39" width="4.05" height="3.37" fill="#fff"/><rect x="59.20" y="280.39" width="3.94" height="3.37" fill="#fff"/>
<text x="50.23" y="199.64" font-size="22.00" textLength="25.94" lengthAdjust="spacingAndGlyphs">20</text>

<text x="50.48" y="116.52" font-size="22.00" textLength="25.69" lengthAdjust="spacingAndGlyphs">30</text>

<text x="50.32" y="33.40" font-size="22.00" textLength="25.85" lengthAdjust="spacingAndGlyphs">40</text>

<text x="332.63" y="534.00" font-size="22.00" textLength="102.57" lengthAdjust="spacingAndGlyphs">Longitude</text>
<g transform="translate(18.2,270) rotate(-90)"><text x="-1.54" y="0.00" font-size="22.00" textLength="81.74" lengthAdjust="spacingAndGlyphs">Latitude</text></g>
<circle cx="116.3" cy="31.0" r="8.6" fill="#000"/>
<path d="M106 45.5H127L116.5 65.6Z" fill="#000"/>
<use href="#m" x="116.3" y="80.2"/>
<text x="134.62" y="36.50" font-size="22.30" textLength="25.63" lengthAdjust="spacingAndGlyphs">Rx</text>
<text x="134.31" y="61.20" font-size="22.30" textLength="108.56" lengthAdjust="spacingAndGlyphs">Ionosonde</text>
<text x="135.07" y="86.30" font-size="22.30" textLength="23.56" lengthAdjust="spacingAndGlyphs" fill="#ff2e00">Tx</text>
</svg>
</body></html>
